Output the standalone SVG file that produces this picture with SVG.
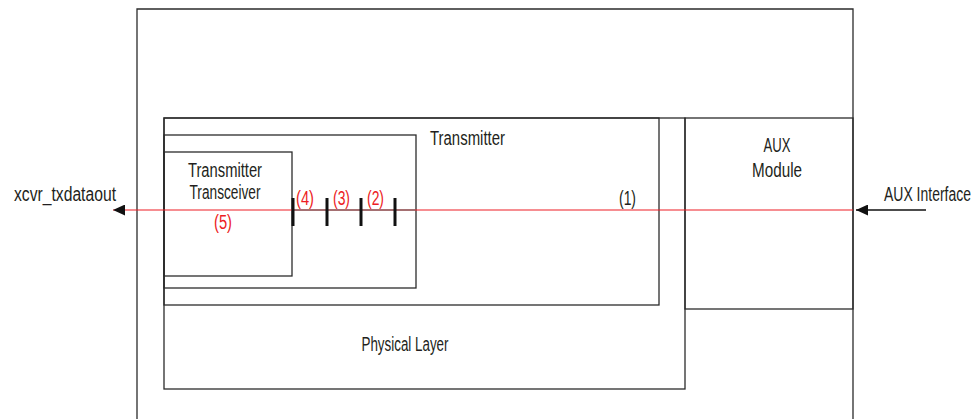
<svg xmlns="http://www.w3.org/2000/svg" width="978" height="419" viewBox="0 0 978 419">
<style>
.box{fill:none;stroke:#2b2b2b;stroke-width:1.3}
.t{font-family:"Liberation Sans Narrow","Liberation Sans",Arial,sans-serif;font-size:20px;fill:#231f20}
.r{fill:#ed1c24}
.m{text-anchor:middle}
.e{text-anchor:end}
.tick{stroke:#111;stroke-width:3}
</style>
<defs>
<marker id="ah" markerUnits="userSpaceOnUse" markerWidth="12" markerHeight="11" refX="12" refY="5.5" orient="auto">
<path d="M0,0 L12,5.5 L0,11 z" fill="#111"/>
</marker>
</defs>
<rect width="978" height="419" fill="#fff"/>
<g id="outer">
<path class="box" d="M137,420 V9 H853 V420"/>
</g>
<g id="physical-layer">
<rect class="box" x="164" y="118" width="521" height="271"/>
<text class="t m" x="405" y="351" textLength="87" lengthAdjust="spacingAndGlyphs">Physical Layer</text>
</g>
<g id="transmitter">
<rect class="box" x="164" y="118" width="495" height="187"/>
<text class="t" x="430" y="145" textLength="75" lengthAdjust="spacingAndGlyphs">Transmitter</text>
</g>
<g id="inner-block">
<rect class="box" x="164" y="135" width="252" height="153"/>
</g>
<g id="transceiver">
<rect class="box" x="164" y="152" width="128" height="124"/>
<text class="t m" x="225" y="177" textLength="74" lengthAdjust="spacingAndGlyphs">Transmitter</text>
<text class="t m" x="225" y="199" textLength="71" lengthAdjust="spacingAndGlyphs">Transceiver</text>
</g>
<g id="aux-module">
<rect class="box" x="685" y="118" width="168" height="191"/>
<text class="t m" x="777" y="152" textLength="27" lengthAdjust="spacingAndGlyphs">AUX</text>
<text class="t m" x="777" y="177" textLength="50" lengthAdjust="spacingAndGlyphs">Module</text>
</g>
<g id="connectors">
<path d="M853,210 H113" stroke="#ed1c24" stroke-width="1.2" fill="none" marker-end="url(#ah)"/>
<path d="M292,210 H415" stroke="#555" stroke-width="1.2" fill="none"/>
<path d="M926,210 H856" stroke="#111" stroke-width="1.5" fill="none" marker-end="url(#ah)"/>
<line class="tick" x1="293" y1="198" x2="293" y2="226"/>
<line class="tick" x1="327" y1="198" x2="327" y2="226"/>
<line class="tick" x1="361" y1="198" x2="361" y2="226"/>
<line class="tick" x1="395" y1="198" x2="395" y2="226"/>
</g>
<g id="labels">
<text class="t" x="14" y="201" textLength="102" lengthAdjust="spacingAndGlyphs">xcvr_txdataout</text>
<text class="t e" x="971" y="201" textLength="87" lengthAdjust="spacingAndGlyphs">AUX Interface</text>
<text class="t r" x="296" y="205" textLength="18" lengthAdjust="spacingAndGlyphs">(4)</text>
<text class="t r" x="333" y="205" textLength="17" lengthAdjust="spacingAndGlyphs">(3)</text>
<text class="t r" x="367" y="205" textLength="17" lengthAdjust="spacingAndGlyphs">(2)</text>
<text class="t" x="619" y="205" textLength="17" lengthAdjust="spacingAndGlyphs">(1)</text>
<text class="t r" x="214" y="229" textLength="18" lengthAdjust="spacingAndGlyphs">(5)</text>
</g>
</svg>
